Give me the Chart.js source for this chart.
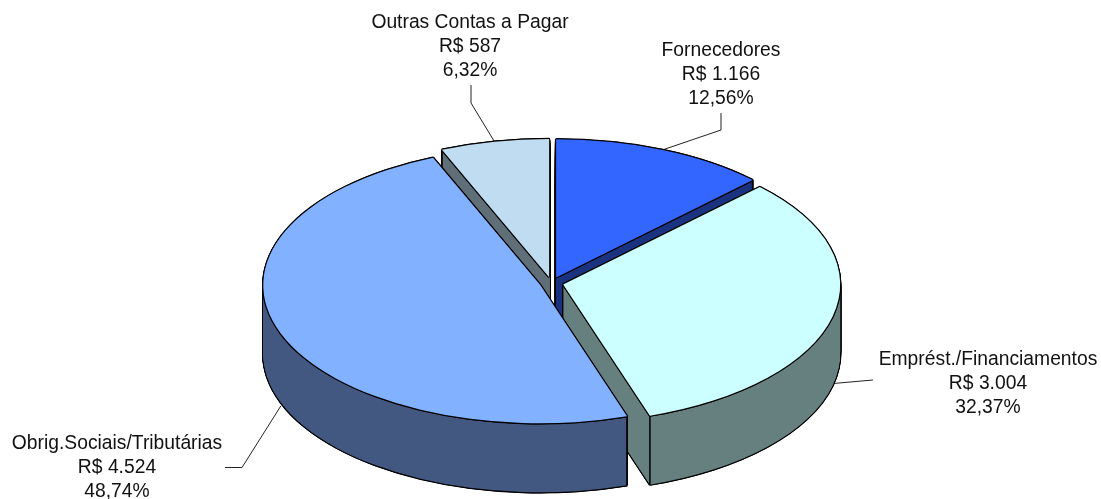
<!DOCTYPE html>
<html>
<head>
<meta charset="utf-8">
<style>
  html, body { margin: 0; padding: 0; background: #fff; }
  #wrap { width: 1101px; height: 499px; }
</style>
<script src="https://cdn.jsdelivr.net/npm/chart.js@4"></script>
</head>
<body>
<div id="wrap"><canvas id="pie3d" width="1101" height="499"></canvas></div>
<script>
// dados
const categorias = ["Fornecedores", "Emprést./Financiamentos", "Obrig.Sociais/Tributárias", "Outras Contas a Pagar"];
const valores = [1166, 3004, 4524, 587];
const valoresTexto = ["R$ 1.166", "R$ 3.004", "R$ 4.524", "R$ 587"];
const percentuais = ["12,56%", "32,37%", "48,74%", "6,32%"];

// cores (topo e lateral)
const coresTopo = ["#3366FF", "#CCFFFF", "#82B1FF", "#C0DCF0"];
const coresLado = ["#1A3380", "#668080", "#425880", "#606E78"];

// aparência do "3D"
const achatamento = 0.499;
const profundidade = 69;
const explosao = 12;
const ordemDesenho = [3, 0, 1, 2]; // de trás para frente

// posição dos rótulos: centro x, baseline da 1a linha, fração da parede onde sai a linha guia, pontos da guia
const rotulos = [
  { x: 721, y: 56, parede: 0, guia: [[721, 130], [721, 113]] },
  { x: 988, y: 365, parede: 0.97, guia: [[873, 380]] },
  { x: 117, y: 449, parede: 1.05, guia: [[242, 467.5], [225, 467.5]] },
  { x: 470, y: 28, parede: 0, guia: [[471, 103], [471, 85]] },
];

function desenhaArco(ctx, arc, cor, dx, dy) {
  const original = arc.options;
  const meio = (arc.startAngle + arc.endAngle) / 2;
  arc.options = Object.assign(Object.create(original), { backgroundColor: cor });
  ctx.save();
  ctx.translate(arc.x + dx, arc.y + dy);
  ctx.scale(1, achatamento);
  ctx.translate(Math.cos(meio) * explosao, Math.sin(meio) * explosao);
  ctx.translate(-arc.x, -arc.y);
  arc.draw(ctx);
  ctx.restore();
  arc.options = original;
}

// ponto da borda da fatia (já achatado e com a explosão)
function pontoBorda(arc, ang, r) {
  const meio = (arc.startAngle + arc.endAngle) / 2;
  const ox = Math.cos(meio) * explosao, oy = Math.sin(meio) * explosao;
  return {
    x: arc.x + ox + Math.cos(ang) * r,
    y: arc.y + (oy + Math.sin(ang) * r) * achatamento,
  };
}

const contorno = [[-1.2, 0], [1.2, 0], [0, -1.2], [0, 1.2], [-0.85, -0.85], [0.85, -0.85], [-0.85, 0.85], [0.85, 0.85]];

const pizza3d = {
  id: 'pizza3d',
  beforeDatasetsDraw(chart) {
    const ctx = chart.ctx;
    const arcs = chart.getDatasetMeta(0).data;

    // camada auxiliar: as cópias sobrepostas da lateral dão faixas, aqui a cor é refeita lisa
    const capa = document.createElement('canvas');
    capa.width = chart.width;
    capa.height = chart.height;
    const capaCtx = capa.getContext('2d');

    // linhas guia por baixo da pizza
    ctx.save();
    ctx.strokeStyle = '#222';
    ctx.lineWidth = 1;
    rotulos.forEach((rot, i) => {
      const arc = arcs[i];
      const meio = (arc.startAngle + arc.endAngle) / 2;
      const p = pontoBorda(arc, meio, arc.outerRadius);
      ctx.beginPath();
      ctx.moveTo(p.x, p.y + rot.parede * profundidade);
      rot.guia.forEach(g => ctx.lineTo(g[0], g[1]));
      ctx.stroke();
    });
    ctx.restore();

    ordemDesenho.forEach(i => {
      const arc = arcs[i];
      // silhueta preta da lateral
      for (let d = profundidade; d > 0; d--) {
        contorno.forEach(c => desenhaArco(ctx, arc, '#000', c[0], d + c[1]));
      }
      // lateral
      capaCtx.globalCompositeOperation = 'source-over';
      capaCtx.clearRect(0, 0, capa.width, capa.height);
      for (let d = profundidade; d > 0; d--) {
        desenhaArco(capaCtx, arc, coresLado[i], 0, d);
      }
      capaCtx.globalCompositeOperation = 'source-in';
      capaCtx.fillStyle = coresLado[i];
      capaCtx.fillRect(0, 0, capa.width, capa.height);
      ctx.drawImage(capa, 0, 0);
      // arestas verticais
      ctx.save();
      ctx.strokeStyle = '#000';
      ctx.lineWidth = 1.5;
      [arc.startAngle, arc.endAngle].forEach(a => {
        const p = pontoBorda(arc, a, arc.outerRadius);
        ctx.beginPath();
        ctx.moveTo(p.x, p.y);
        ctx.lineTo(p.x, p.y + profundidade);
        ctx.stroke();
      });
      ctx.restore();
      // topo
      contorno.forEach(c => desenhaArco(ctx, arc, '#000', c[0], c[1]));
      desenhaArco(ctx, arc, coresTopo[i], 0, 0);
    });
    return false;
  },
  afterDraw(chart) {
    const ctx = chart.ctx;
    ctx.save();
    ctx.fillStyle = '#111';
    ctx.font = '19.3px "Liberation Sans", Arial, sans-serif';
    ctx.textAlign = 'center';
    ctx.textBaseline = 'alphabetic';
    rotulos.forEach((rot, i) => {
      ctx.fillText(categorias[i], rot.x, rot.y);
      ctx.fillText(valoresTexto[i], rot.x, rot.y + 24);
      ctx.fillText(percentuais[i], rot.x, rot.y + 48);
    });
    ctx.restore();
  }
};

new Chart(document.getElementById('pie3d').getContext('2d'), {
  type: 'pie',
  data: {
    labels: categorias,
    datasets: [{
      data: valores,
      backgroundColor: coresTopo,
      borderWidth: 0,
      radius: 277,
    }]
  },
  options: {
    responsive: false,
    animation: false,
    layout: { padding: { left: 2, top: 67 } },
    plugins: { legend: { display: false }, tooltip: { enabled: false } },
  },
  plugins: [pizza3d],
});
</script>
</body>
</html>
